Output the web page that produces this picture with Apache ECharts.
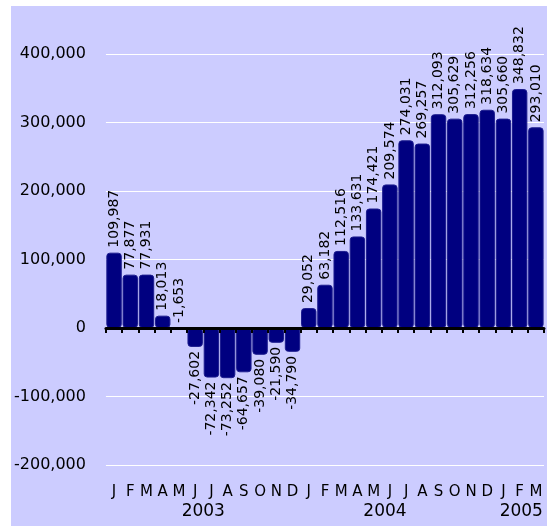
<!DOCTYPE html>
<html>
<head>
<meta charset="utf-8">
<script src="https://cdn.jsdelivr.net/npm/echarts@6/dist/echarts.min.js"></script>
<style>
html, body { margin: 0; padding: 0; background: #fff; }
#chart {
    position: absolute;
    left: 11px;
    top: 6px;
    width: 536px;
    height: 520px;
    background: #ccccff;
}
</style>
</head>
<body>
<div id="chart"></div>
<script>
// Monthly values, Jan 2003 .. Mar 2005
const months = ['J', 'F', 'M', 'A', 'M', 'J', 'J', 'A', 'S', 'O', 'N', 'D',
    'J', 'F', 'M', 'A', 'M', 'J', 'J', 'A', 'S', 'O', 'N', 'D',
    'J', 'F', 'M'];
const values = [109987, 77877, 77931, 18013, -1653, -27602, -72342, -73252, -64657, -39080, -21590, -34790,
    29052, 63182, 112516, 133631, 174421, 209574, 274031, 269257, 312093, 305629, 312256, 318634,
    305660, 348832, 293010];
const years = ['2003', '2004', '2005'];
const yearPositions = [6, 17.2, 25.6];   // where each year label sits on the month scale
const yTicks = [-200000, -100000, 0, 100000, 200000, 300000, 400000];

const FONT = 'DejaVu Sans';
const fmt = v => Math.round(v).toLocaleString('en-US');

// tiny values keep their label above the axis, like the original
const barData = values.map(v => ({
    value: v,
    label: v > -10000
        ? { position: 'top', align: 'left', distance: 5 }
        : { position: 'bottom', align: 'right', distance: 4 }
}));

const chart = echarts.init(document.getElementById('chart'));
chart.setOption({
    backgroundColor: 'transparent',
    animation: false,
    grid: { left: 94, right: 3, top: 48, bottom: 61 },
    xAxis: [
        {
            // zero line with ticks between months
            type: 'category',
            data: months,
            z: 10,
            axisLine: { onZero: true, lineStyle: { color: '#000', width: 3 } },
            axisTick: { show: true, length: 5, lineStyle: { color: '#000', width: 2 } },
            axisLabel: { show: false },
            splitLine: { show: false }
        },
        {
            // month letters at the bottom
            type: 'category',
            data: months,
            position: 'bottom',
            axisLine: { show: false, onZero: false },
            axisTick: { show: false },
            axisLabel: { margin: 20, color: '#000', fontFamily: FONT, fontSize: 15, interval: 0 },
            splitLine: { show: false }
        },
        {
            // year labels under the months
            type: 'value',
            min: 0,
            max: 27,
            position: 'bottom',
            axisLine: { show: false, onZero: false },
            axisTick: { show: false },
            splitLine: { show: false },
            axisLabel: {
                margin: 38,
                color: '#000',
                fontFamily: FONT,
                fontSize: 17,
                customValues: yearPositions,
                formatter: v => years[yearPositions.indexOf(v)] || ''
            }
        }
    ],
    yAxis: {
        type: 'value',
        min: yTicks[0],
        max: yTicks[yTicks.length - 1],
        interval: 100000,
        axisLine: { show: false },
        axisTick: { show: false },
        axisLabel: { margin: 20, color: '#000', fontFamily: FONT, fontSize: 16, formatter: fmt },
        splitLine: { lineStyle: { color: '#ffffff', width: 1 } }
    },
    series: [{
        type: 'bar',
        xAxisIndex: 0,
        data: barData,
        barCategoryGap: '5%',
        itemStyle: {
            color: '#000080',
            borderColor: '#1c1c8e',
            borderWidth: 1,
            borderRadius: 3
        },
        label: {
            show: true,
            rotate: 90,
            verticalAlign: 'middle',
            color: '#000',
            fontFamily: FONT,
            fontSize: 14,
            formatter: p => fmt(p.value)
        }
    }]
});
</script>
</body>
</html>
